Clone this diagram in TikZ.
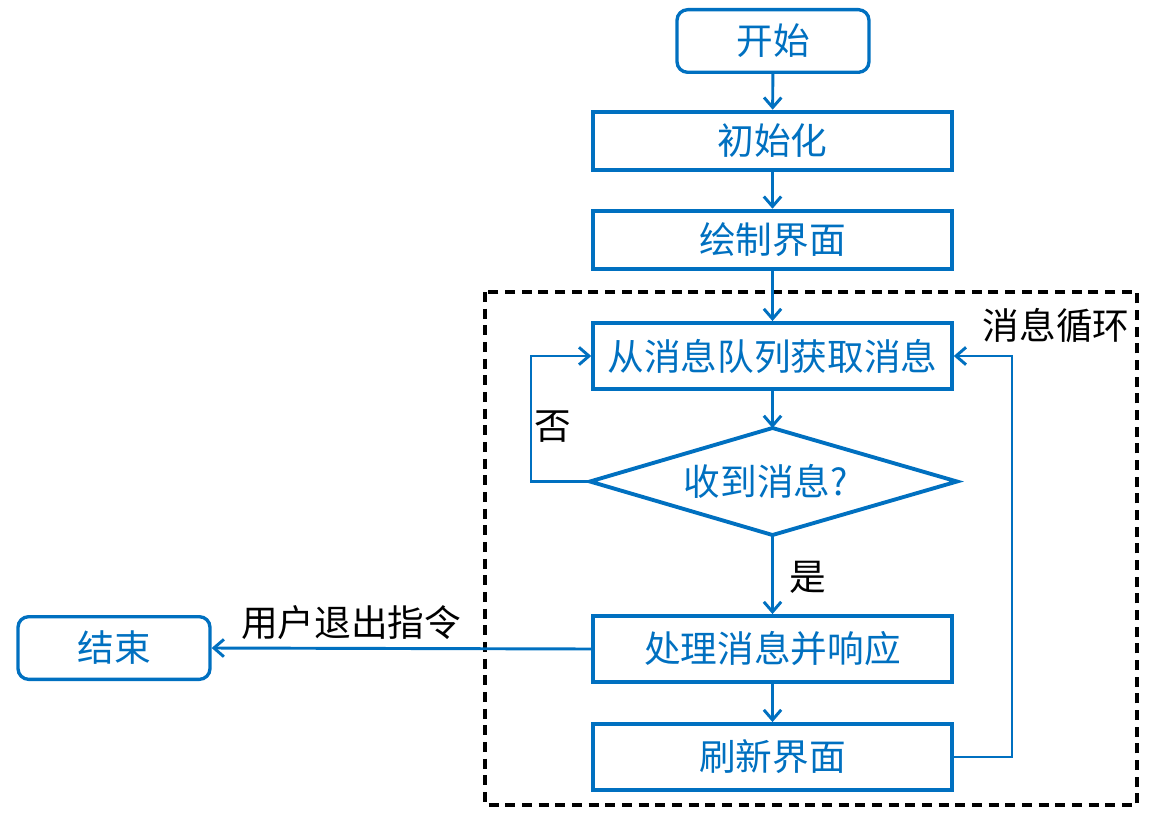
\documentclass[tikz,border=0pt]{standalone}
\usepackage{fontspec}
\setmainfont{Noto Sans CJK SC}
\usetikzlibrary{arrows.meta}
\definecolor{fcblue}{HTML}{0070C0}
\begin{document}
\begin{tikzpicture}[x=0.75pt,y=-0.75pt,
  txt/.style={font=\fontsize{27.5pt}{32pt}\selectfont},
  box/.style={draw=fcblue,line width=2.9pt,text=fcblue,txt,minimum width=269pt,minimum height=44pt,inner sep=0pt},
  tallbox/.style={box,minimum height=49.5pt},
  term/.style={draw=fcblue,line width=2.5pt,text=fcblue,txt,rounded corners=8pt,minimum width=144pt,minimum height=47pt,inner sep=0pt},
  decline/.style={draw=fcblue,line width=2.9pt,line join=miter},
  dectext/.style={text=fcblue,txt,inner sep=0pt},
  conn/.style={draw=fcblue,line width=2.2pt,-{Straight Barb[length=7.5pt,width=13pt,line width=2.2pt]}},
  lbl/.style={txt,text=black,inner sep=0pt}]
\useasboundingbox (0,0) rectangle (1152,817);
% loop frame
\draw[line width=2.8pt,dash pattern=on 7.5pt off 5pt] (485,292) rectangle (1137,805);
\node[lbl] (looplbl) at (1056,326) {消息循环};
% nodes
\node[term] (start) at (773,41) {开始};
\node[box] (init) at (772.5,141) {初始化};
\node[box] (draw) at (772.5,240) {绘制界面};
\node[tallbox] (get) at (772.5,356) {从消息队列获取消息};
\coordinate (recvN) at (772.5,428);
\coordinate (recvW) at (590,481.5);
\coordinate (recvS) at (772.5,535);
\coordinate (recvE) at (957,481.5);
\draw[decline] (recvN) -- (recvE) -- (recvS) -- (recvW) -- cycle;
\node[dectext] (recv) at (766,481.5) {收到消息?};
\node[tallbox] (proc) at (772.5,649) {处理消息并响应};
\node[tallbox] (refresh) at (772.5,757) {刷新界面};
\node[term] (end) at (114,648) {结束};
\coordinate (lcorner1) at (531,481.5);
\coordinate (lcorner2) at (531,356);
\coordinate (rcorner1) at (1012,757);
\coordinate (rcorner2) at (1012,356);
% connectors
\draw[conn] (start) -- (init);
\draw[conn] (init) -- (draw);
\draw[conn] (draw) -- (get);
\draw[conn] (get.south) -- (recvN);
\draw[conn] (recvS) -- (proc.north);
\node[lbl] (yes) at (808,577) {是};
\draw[conn] (proc) -- (refresh);
\draw[conn] (recvW) -- (lcorner1) -- (lcorner2) -- (get.west);
\draw[conn] (refresh.east) -- (rcorner1) -- (rcorner2) -- (get.east);
\draw[conn] (proc.west) -- (end.east);
\node[lbl] (quit) at (351,623) {用户退出指令};
\node[lbl] (no) at (553,427) {否};
\end{tikzpicture}
\end{document}
